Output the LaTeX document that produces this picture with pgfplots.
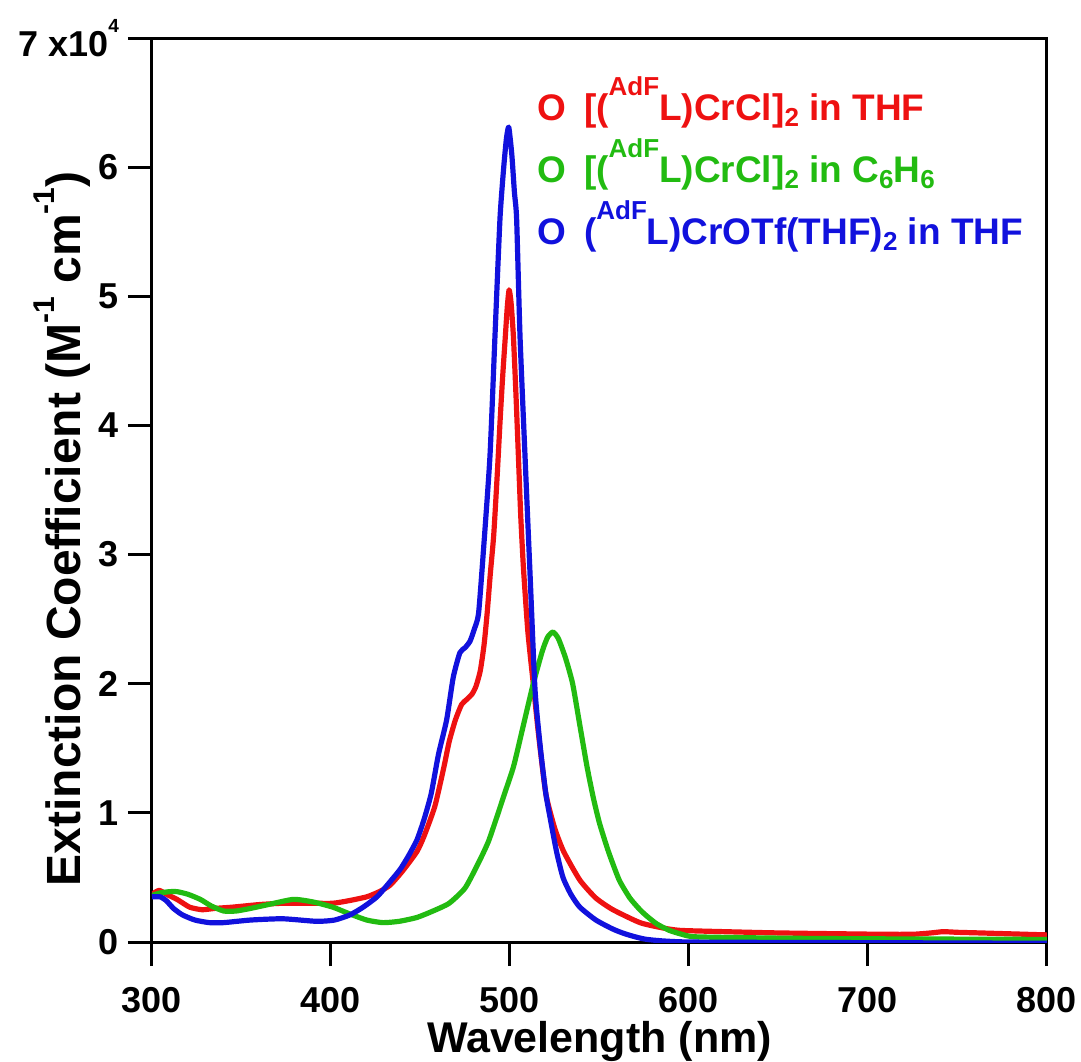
\documentclass[border=0pt]{standalone}
\usepackage{fontspec}
\setmainfont{Liberation Sans}
\usepackage{pgfplots}
\pgfplotsset{compat=1.18}
\definecolor{spred}{HTML}{EE1111}
\definecolor{spgreen}{HTML}{22BB11}
\definecolor{spblue}{HTML}{1111DD}
\newcommand{\up}[1]{\raisebox{12.5pt}{\fontsize{13}{13}\selectfont #1}}
\newcommand{\dn}[1]{\raisebox{-3pt}{\fontsize{13}{13}\selectfont #1}}
\newcommand{\yup}[1]{\raisebox{13pt}{\fontsize{15}{15}\selectfont #1}}

\begin{document}
\begin{tikzpicture}
\useasboundingbox (-76pt,-59.5pt) rectangle (464.5pt,471pt);
\begin{axis}[
  anchor=south west, at={(0,0)},
  width=447.5pt, height=452pt, scale only axis,
  xmin=300, xmax=800, ymin=0, ymax=7,
  xtick={300,400,...,800}, ytick={0,...,7},
  yticklabels={0,1,2,3,4,5,6,{7 x10\raisebox{12pt}{\fontsize{9.5}{10}\selectfont 4}}},
  axis line style={line width=1.5pt},
  tick style={line width=1.5pt, black},
  major tick length=12pt,
  tick align=outside,
  xtick pos=bottom, ytick pos=left,
  /pgf/number format/assume math mode=true,
  /pgf/number format/1000 sep={},
  ticklabel style={font=\bfseries\fontsize{18}{18}\selectfont},
  xticklabel style={yshift=-10.5pt, inner sep=0pt},
  yticklabel style={xshift=-1pt},
  xlabel={Wavelength (nm)},
  ylabel={Extinction Coefficient (M\yup{-1} cm\yup{-1})},
  xlabel style={font=\bfseries\fontsize{21.5}{22}\selectfont, at={(axis description cs:0.5,-0.1095)}, anchor=center, inner sep=0pt},
  ylabel style={font=\bfseries\fontsize{24}{25}\selectfont, at={(axis description cs:-0.1006,0.457)}, anchor=center, rotate=0},
  legend style={draw=none, fill=none, at={(axis description cs:0.430,0.962)}, anchor=north west,
    font=\bfseries\fontsize{18.5}{19}\selectfont, row sep=3.5pt, inner sep=0pt,
    nodes={inner sep=0pt, inner ysep=2pt}},
  legend cell align=left,
  legend image code/.code={},
  every axis plot/.append style={line width=2.6pt, line join=round, smooth, tension=0.35},
]
\addplot[spred]
coordinates {
(300,0.37) (304,0.40) (308,0.37) (314,0.33) (321,0.27) (328,0.25) (335,0.26)
(345,0.27) (360,0.29) (373,0.30) (390,0.30) (401,0.30) (410,0.32) (420,0.35)
(427,0.39) (433,0.44) (440,0.55) (448,0.70) (452,0.82) (458,1.05) (463,1.35)
(466,1.55) (469.5,1.72) (473,1.84) (476,1.88) (478.8,1.92) (481,1.98) (483.4,2.10)
(485.5,2.30) (487.2,2.54) (489,2.85) (490.9,3.15) (492.8,3.60) (494.6,4.07)
(496,4.40) (497.4,4.69) (498.5,4.92) (499.5,5.05) (500.6,4.95) (501.9,4.69)
(503.3,4.25) (504.7,3.76) (506,3.30) (507.5,2.90) (510,2.40) (513,2.00)
(516,1.60) (520,1.15) (525,0.88) (530,0.70) (539,0.48) (548,0.34) (557.5,0.25)
(572.6,0.15) (585,0.11) (595,0.09) (620,0.08) (651,0.07) (707,0.06) (725,0.06)
(735,0.07) (742,0.08) (750,0.075) (763,0.07) (800,0.055)
};
\addlegendentry{\textcolor{spred}{O\hspace{9pt}[(\up{AdF}L)CrCl]\dn{2} in THF}}
\addplot[spgreen]
coordinates {
(300,0.36) (304.5,0.38) (310,0.39) (314,0.39) (320,0.37) (327,0.33) (333,0.28)
(340,0.24) (347,0.24) (355,0.26) (365,0.29) (379,0.33) (390,0.31) (401,0.27)
(410,0.22) (420,0.17) (429,0.15) (438,0.16) (448,0.19) (457,0.24) (466,0.30)
(475,0.42) (483,0.63) (488,0.78) (492.7,0.97) (497,1.15) (502,1.36) (507,1.65)
(513,2.00) (518,2.25) (521,2.36) (524,2.40) (527,2.35) (531,2.20) (535,2.00)
(539,1.68) (543,1.36) (546.5,1.12) (550,0.92) (555,0.70) (561,0.48) (567,0.34)
(572.6,0.25) (576.5,0.20) (582,0.14) (589,0.09) (596,0.06) (604,0.04) (650,0.03)
(700,0.025) (800,0.02)
};
\addlegendentry{\textcolor{spgreen}{O\hspace{9pt}[(\up{AdF}L)CrCl]\dn{2} in C\dn{6}H\dn{6}}}
\addplot[spblue]
coordinates {
(300,0.35) (304.5,0.35) (308,0.32) (312,0.26) (317,0.21) (324,0.17) (332,0.15)
(340,0.15) (355,0.17) (373,0.18) (392,0.16) (402,0.17) (410.6,0.21) (418,0.27)
(425.7,0.35) (432,0.45) (438.5,0.56) (443,0.66) (448,0.79) (452,0.95) (456,1.15)
(460,1.45) (464.6,1.72) (468.3,2.05) (472,2.24) (475,2.28) (477.7,2.33) (480,2.42)
(482.4,2.54) (485,3.00) (488.8,3.76) (491.6,4.69) (494.4,5.60) (496.5,6.00)
(498,6.22) (499.3,6.31) (501,6.10) (502.5,5.80) (503.7,5.60) (505.6,4.69)
(508.4,3.76) (511.2,2.85) (514,1.95) (517,1.50) (520,1.15) (522.3,0.97)
(526,0.70) (529.6,0.50) (534,0.37) (539,0.27) (548,0.17) (557.5,0.10) (565,0.06)
(576.5,0.02) (600,0.0) (700,-0.005) (800,-0.01)
};
\addlegendentry{\textcolor{spblue}{O\hspace{9pt}(\up{AdF}L)CrOTf(THF)\dn{2} in THF}}
\end{axis}
\end{tikzpicture}
\end{document}
